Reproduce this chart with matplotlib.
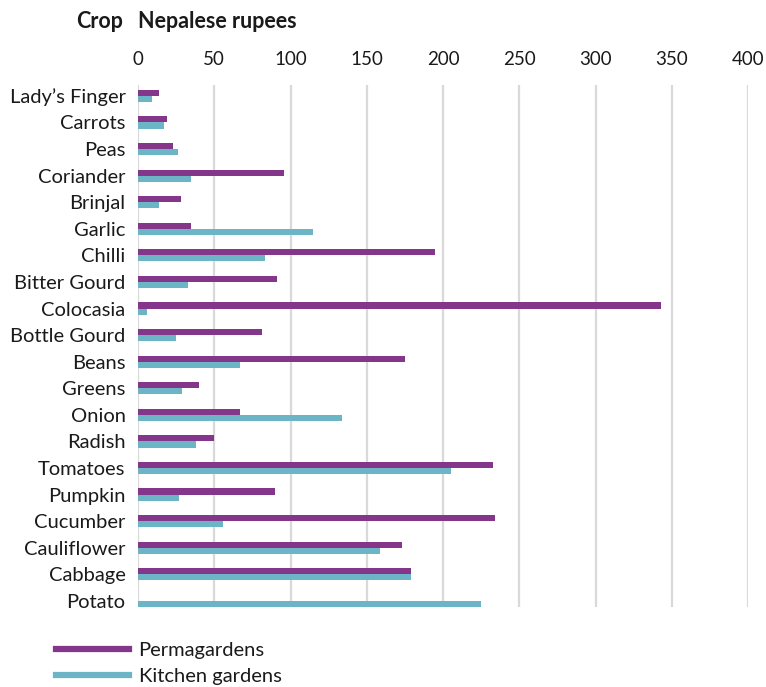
import matplotlib
matplotlib.use("Agg")
import matplotlib.pyplot as plt
from matplotlib.lines import Line2D
import numpy as np

plt.rcParams['font.family'] = ['Lato', 'DejaVu Sans']

crops = ["Lady\u2019s Finger", "Carrots", "Peas", "Coriander", "Brinjal", "Garlic",
         "Chilli", "Bitter Gourd", "Colocasia", "Bottle Gourd", "Beans", "Greens",
         "Onion", "Radish", "Tomatoes", "Pumpkin", "Cucumber", "Cauliflower",
         "Cabbage", "Potato"]
permagardens = [14, 19, 23, 96, 28, 35, 195, 91, 343, 81, 175, 40,
                67, 50, 233, 90, 234, 173, 179, 0]
kitchen_gardens = [9, 17, 26, 35, 14, 115, 83, 33, 6, 25, 67, 29,
                   134, 38, 205, 27, 56, 159, 179, 225]
x_ticks = [0, 50, 100, 150, 200, 250, 300, 350, 400]

purple = "#84368A"
cyan = "#6BB5C7"
grid_col = "#D9D9D9"
text_col = "#1a1a1a"

W, H = 766, 687
fig = plt.figure(figsize=(W / 100, H / 100), dpi=100)
ax = fig.add_axes([138 / W, 1 - 607 / H, (748 - 138) / W, (607 - 85) / H])

y = np.arange(len(crops))
bh = 0.23
ax.barh(y - bh / 2, permagardens, height=bh, color=purple, zorder=3)
ax.barh(y + bh / 2, kitchen_gardens, height=bh, color=cyan, zorder=3)

ax.set_xlim(0, 400)
ax.set_ylim(len(crops) - 1 + 0.23, -0.41)
ax.set_xticks(x_ticks)
ax.xaxis.tick_top()
ax.tick_params(axis='x', length=0, pad=12, labelsize=13.5, colors=text_col)
ax.set_yticks(y)
ax.set_yticklabels(crops)
ax.tick_params(axis='y', length=0, pad=9, labelsize=14.5, colors=text_col)
for lbl in ax.get_yticklabels():
    lbl.set_va('center_baseline')
for s in ax.spines.values():
    s.set_visible(False)
for t in x_ticks:
    ax.axvline(t, color=grid_col, lw=1.6, zorder=1)

fig.text(123 / W, 1 - 22 / H, "Crop", ha='right', va='center',
         fontsize=15.5, fontweight='bold', color=text_col)
fig.text(138 / W, 1 - 22 / H, "Nepalese rupees", ha='left', va='center',
         fontsize=15.5, fontweight='bold', color=text_col)

handles = [Line2D([], [], color=purple, lw=4.5),
           Line2D([], [], color=cyan, lw=4.5)]
fig.legend(handles, ["Permagardens", "Kitchen gardens"],
           loc='upper left', bbox_to_anchor=(56 / W, 1 - 642 / H),
           frameon=False, fontsize=14.5, handlelength=3.6,
           handletextpad=0.5, labelspacing=0.42, borderpad=0,
           borderaxespad=0, labelcolor=text_col)

fig.savefig("out.png", dpi=100)
